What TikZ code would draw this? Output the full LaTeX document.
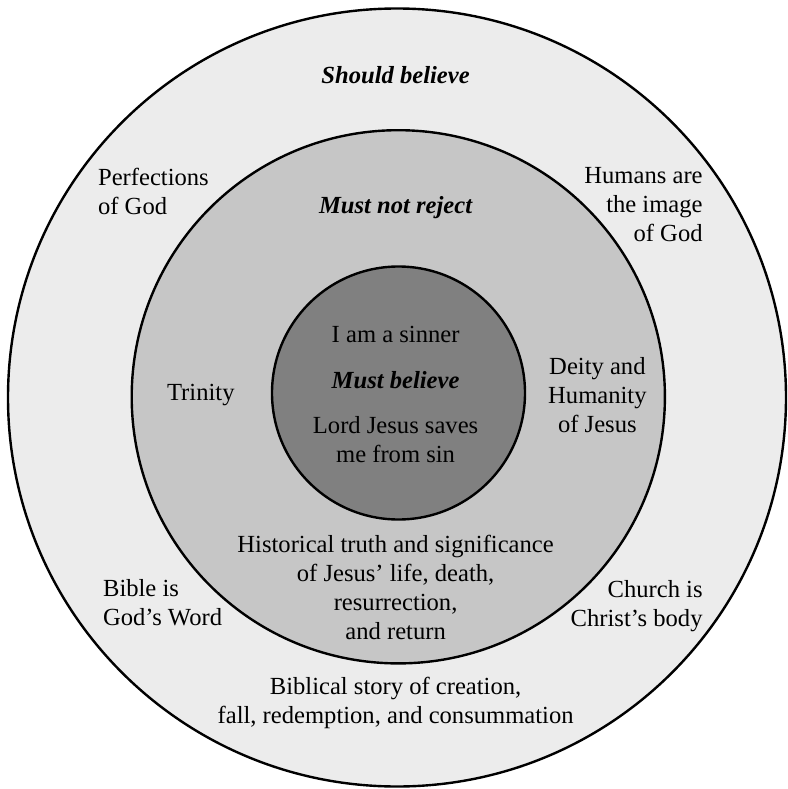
\documentclass[tikz,border=0pt]{standalone}
\usepackage{fontspec}
\setmainfont{Liberation Serif}
\begin{document}
\begin{tikzpicture}[x=1pt,y=-1pt,
  ring/.style={draw=black, line width=2.4pt},
  lbl/.style={font=\fontsize{24.6}{29}\selectfont, inner sep=0pt, align=center},
  lbll/.style={lbl, align=left},
  lblr/.style={lbl, align=right},
  head/.style={font=\fontsize{24.6}{29}\selectfont\bfseries\itshape, inner sep=0pt}]
\useasboundingbox (0,0) rectangle (787,789);
\definecolor{outerfill}{HTML}{ECECEC}
\definecolor{midfill}{HTML}{C6C6C6}
\definecolor{innerfill}{HTML}{808080}

% three nested rings
\filldraw[ring, fill=outerfill] (397,397.5) circle (389);
\filldraw[ring, fill=midfill] (398.3,396.8) circle (266.6);
\filldraw[ring, fill=innerfill] (398.5,393) circle (126.5);

% outer ring: should believe
\node[head] (should) at (395.6,75.3) {Should believe};
\node[lbll, anchor=west] (perf) at (97.9,191.5) {Perfections\\of God};
\node[lblr, anchor=east] (humans) at (702.8,205) {Humans are\\the image\\of God};
\node[lbll, anchor=west] (bible) at (102.9,602.6) {Bible is\\God’s Word};
\node[lblr, anchor=east] (church) at (702.8,605.7) {Church is\\Christ’s body};
\node[lbl] (story) at (395.6,703.3) {Biblical story of creation,\\fall, redemption, and consummation};

% middle ring: must not reject
\node[head] (mustnot) at (395.6,207.3) {Must not reject};
\node[lbl] (trinity) at (200.8,395) {Trinity};
\node[lbl] (deity) at (597.4,395) {Deity and\\Humanity\\of Jesus};
\node[lbl] (hist) at (395.6,587) {Historical truth and significance\\of Jesus’ life, death,\\resurrection,\\and return};

% inner circle: must believe
\node[lbl] (sinner) at (395.6,334.8) {I am a sinner};
\node[head] (must) at (395.6,380.5) {Must believe};
\node[lbl] (saves) at (395.6,440) {Lord Jesus saves\\me from sin};
\end{tikzpicture}
\end{document}
